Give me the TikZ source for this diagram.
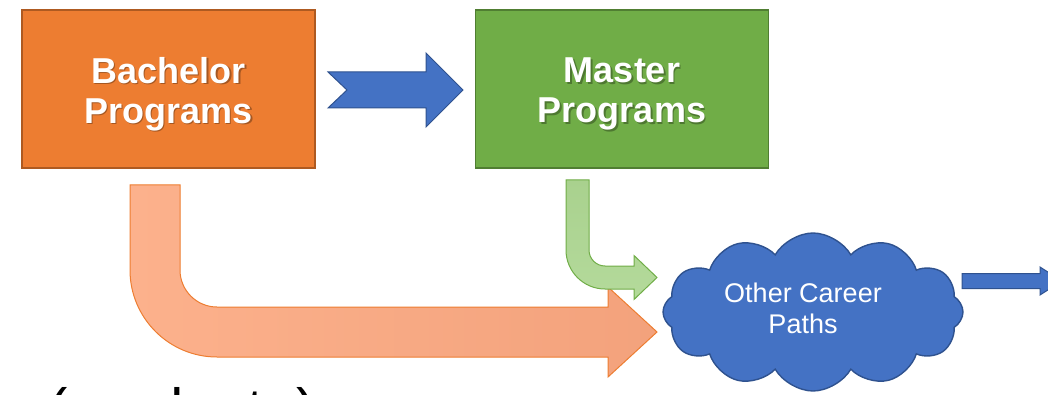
\documentclass[tikz,border=0pt]{standalone}
\usepackage{fontspec}
\setmainfont{Liberation Sans}
\usepackage{tikz}
\usetikzlibrary{shapes.symbols, calc}
\definecolor{bachelororange}{HTML}{ED7D31}
\definecolor{bachelorborder}{HTML}{AE5A21}
\definecolor{mastergreen}{HTML}{70AD47}
\definecolor{masterborder}{HTML}{507E32}
\definecolor{arrowblue}{HTML}{4472C4}
\definecolor{arrowborder}{HTML}{2F528F}
\definecolor{bentorangeL}{HTML}{FCB18C}
\definecolor{bentorangeR}{HTML}{F3A27C}
\definecolor{bentgreenT}{HTML}{A9D18E}
\definecolor{bentgreenB}{HTML}{B4DA9B}
\tikzset{%
  program/.style={draw, rectangle, line width=0.6pt, minimum width=146.5pt, minimum height=79pt, inner sep=0pt},
  program text/.style={text=white, font=\bfseries\fontsize{18}{20}\selectfont, align=center},
  program shadow/.style={program text, text=black, opacity=0.3},
  blockarrow/.style={line width=0.5pt, line join=miter},
  career/.style={cloud, cloud puffs=12, cloud puff arc=120, aspect=1.9, draw=arrowborder, fill=arrowblue,
    line width=0.7pt, minimum width=150pt, minimum height=79pt, inner sep=0pt},
  career text/.style={text=white, font=\fontsize{13.5}{15.5}\selectfont, align=center}
}
\begin{document}
\begin{tikzpicture}[x=0.5pt, y=-0.5pt]
  \useasboundingbox (0,0) rectangle (1048,395);
  \clip (0,0) rectangle (1048,395);
  % the two programs
  \node[program, fill=bachelororange, draw=bachelorborder] (bachelor) at (168.5,89) {};
  \node[program shadow] at ($(bachelor)+(1.5,6.5)$) {Bachelor\\Programs};
  \node[program text] at ($(bachelor)+(0,5)$) {Bachelor\\Programs};
  \node[program, fill=mastergreen, draw=masterborder] (master) at (622,89) {};
  \node[program shadow] at ($(master)+(1.5,6.5)$) {Master\\Programs};
  \node[program text] at ($(master)+(0,5)$) {Master\\Programs};
  % bachelor -> master
  \draw[blockarrow, draw=arrowborder, fill=arrowblue] (328,72) -- (426,72) -- (426,53) -- (463,90)
    -- (426,127) -- (426,108) -- (328,108) -- (347,90) -- cycle;
  % bachelor -> other career paths
  \draw[blockarrow, draw=bachelororange, left color=bentorangeL, right color=bentorangeR]
    (130,185) -- (130,270) .. controls (130,318) and (169,357) .. (217,357) -- (608,357) -- (608,377)
    -- (657,332) -- (608,287) -- (608,307) -- (217,307) .. controls (196.6,307) and (180,290.4) .. (180,270)
    -- (180,185) -- cycle;
  % master -> other career paths
  \draw[blockarrow, draw=mastergreen, top color=bentgreenT, bottom color=bentgreenB]
    (566,180) -- (566,250) .. controls (566,271.5) and (583.5,289) .. (605,289) -- (634,289) -- (634,299.5)
    -- (657,277.5) -- (634,255.5) -- (634,266) -- (605,266) .. controls (596.2,266) and (589,258.8) .. (589,250)
    -- (589,180) -- cycle;
  % other career paths
  \node[career] (career) at (813,312) {};
  \node[career text] at ($(career.center)+(-10,-4)$) {Other Career\\Paths};
  \draw[blockarrow, draw=arrowborder, fill=arrowblue] (962,273.5) -- (1040,273.5) -- (1040,267) -- (1062,281)
    -- (1040,295) -- (1040,288.5) -- (962,288.5) -- cycle;
  \node[anchor=base west, font=\fontsize{29}{35}\selectfont] (graduate) at (41,429) {(graduate)};
\end{tikzpicture}
\end{document}
